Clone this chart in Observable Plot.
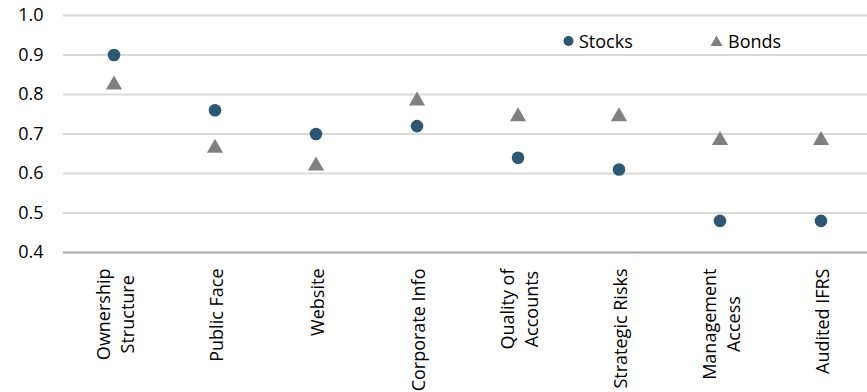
<!DOCTYPE html>
<html>
<head>
<meta charset="utf-8">
<script src="https://cdn.jsdelivr.net/npm/d3@7"></script>
<script src="https://cdn.jsdelivr.net/npm/@observablehq/plot@0.6"></script>
<style>
  html, body { margin: 0; padding: 0; background: #fff; }
  #wrap { position: relative; width: 867px; height: 392px; overflow: hidden; font-family: 'Open Sans', sans-serif; }
  .leg { position: absolute; top: 29px; font-size: 18px; line-height: 24px; color: #000; display: flex; align-items: center; white-space: nowrap; }
  .leg svg { display: block; margin-right: 5px; }
</style>
</head>
<body>
<div id="wrap"></div>
<script>
const categories = ["Ownership\nStructure", "Public Face", "Website", "Corporate Info", "Quality of\nAccounts", "Strategic Risks", "Management\nAccess", "Audited IFRS"];
const stocks = [0.90, 0.76, 0.70, 0.72, 0.64, 0.61, 0.48, 0.48];
const bonds = [0.83, 0.67, 0.625, 0.79, 0.75, 0.75, 0.69, 0.69];
const yTicks = [0.4, 0.5, 0.6, 0.7, 0.8, 0.9, 1.0];
const seriesNames = ["Stocks", "Bonds"];
const colors = {Stocks: "#2d5773", Bonds: "#808080"};

const stockRows = categories.map((c, i) => ({category: c, value: stocks[i]}));
const bondRows = categories.map((c, i) => ({category: c, value: bonds[i]}));

const FONT = "18px 'Open Sans'";
const ctx = document.createElement("canvas").getContext("2d");
ctx.font = FONT;
const longest = c => d3.max(c.split("\n"), s => ctx.measureText(s).width);

const chart = Plot.plot({
  width: 867,
  height: 392,
  marginLeft: 63,
  marginRight: -4,
  marginTop: 15,
  marginBottom: 140,
  style: {fontFamily: "'Open Sans', sans-serif", fontSize: "18px", background: "#fff", color: "#000"},
  x: {type: "band", domain: categories, padding: 0, axis: null},
  y: {domain: [0.4, 1.0], axis: null, label: null},
  marks: [
    Plot.ruleY(yTicks.filter(d => d > 0.4), {stroke: "#d9d9d9", strokeWidth: 2}),
    Plot.ruleY([0.4], {stroke: "#a6a6a6", strokeWidth: 2}),
    Plot.axisY({ticks: yTicks, tickSize: 0, tickPadding: 20, tickFormat: d => d.toFixed(1), fontSize: 18, fill: "#000", label: null}),
    Plot.dot(stockRows, {x: "category", y: "value", r: 6.3, fill: colors.Stocks, symbol: "circle"}),
    Plot.dot(bondRows, {x: "category", y: "value", r: 6, fill: colors.Bonds, symbol: "triangle", dy: 2.3}),
    ...categories.map(c => Plot.text([c], {
      x: d => d, text: d => d, frameAnchor: "bottom", rotate: -90,
      textAnchor: "middle", lineAnchor: "middle", lineHeight: 1.38,
      dy: 16 + longest(c) / 2, fontSize: 18, fill: "#000"
    }))
  ]
});

const wrap = document.getElementById("wrap");
wrap.appendChild(chart);

const legendPos = {Stocks: 563, Bonds: 710};
seriesNames.forEach(name => {
  const item = document.createElement("div");
  item.className = "leg";
  item.style.left = legendPos[name] + "px";
  const sym = name === "Stocks"
    ? `<svg width="11" height="12" viewBox="-5.5 -6 11 12"><circle r="5" fill="${colors.Stocks}"/></svg>`
    : `<svg width="13" height="12" viewBox="-6.5 -6 13 12"><path d="M0,-5.5L6,5L-6,5Z" fill="${colors.Bonds}"/></svg>`;
  item.innerHTML = sym + `<span>${name}</span>`;
  wrap.appendChild(item);
});
</script>
</body>
</html>
